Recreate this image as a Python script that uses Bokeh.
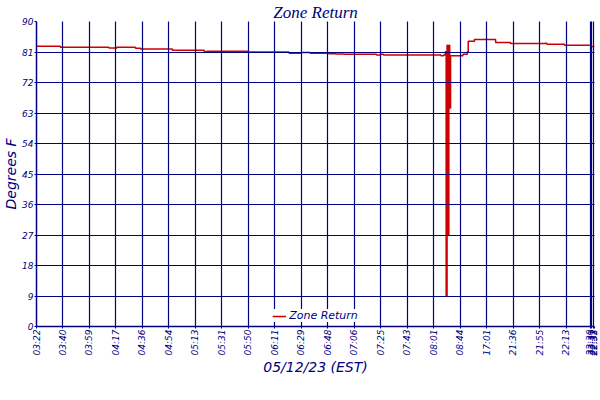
import math
from bokeh.plotting import figure
from bokeh.models import FixedTicker, Legend, LegendItem, Range1d
from bokeh.embed import file_html
from bokeh.resources import INLINE

# ---- data ----
tick_idx = [0, 30, 60, 90, 120, 150, 180, 210, 240, 270, 300, 330, 360, 390,
            420, 450, 480, 510, 540, 570, 600, 627, 629, 631, 632]
tick_labels = ["03:22", "03:40", "03:59", "04:17", "04:36", "04:54", "05:13",
               "05:31", "05:50", "06:11", "06:29", "06:48", "07:06", "07:25",
               "07:43", "08:01", "08:44", "17:01", "21:36", "21:55", "22:13",
               "22:30", "22:31", "22:32", "22:33"]
y_ticks = [0, 9, 18, 27, 36, 45, 54, 63, 72, 81, 90]

sample_idx = [0, 27, 82, 91, 112, 118, 154, 190, 193, 239, 286, 300, 310, 331,
              339, 348, 385, 390, 393, 458, 461, 463, 464, 465, 466, 467, 468,
              469, 483, 488, 489, 496, 520, 537, 576, 578, 598, 628, 632]
zone_return = [82.7, 82.4, 82.2, 82.4, 82.1, 81.9, 81.5, 81.1, 81.2, 81.0,
               80.6, 80.85, 80.6, 80.5, 80.4, 80.3, 80.1, 80.3, 80.1, 79.9,
               80.1, 81.1, 9.0, 83.0, 27.0, 83.0, 64.5, 79.9, 80.3, 81.1,
               84.2, 84.7, 83.8, 83.5, 83.6, 83.3, 83.0, 82.6, 82.6]

NAVY = "#000080"
RED = "#CC0000"

p = figure(frame_width=558, frame_height=305, output_backend="svg",
           toolbar_location=None,
           x_range=Range1d(0, 632), y_range=Range1d(0, 90),
           min_border_left=0, min_border_right=4, min_border_top=0,
           min_border_bottom=0)

p.title.text = "Zone Return"
p.title.align = "center"
p.title.text_font = "Liberation Serif"
p.title.text_font_style = "italic"
p.title.text_font_size = "17px"
p.title.text_color = NAVY
p.title.standoff = 0
p.title.offset = 0

r = p.step(sample_idx, zone_return, mode="after", line_color=RED, line_width=1.5)

p.outline_line_color = None
p.background_fill_color = "white"
p.border_fill_color = "white"

for g in (p.xgrid, p.ygrid):
    g.grid_line_color = NAVY
    g.grid_line_width = 1.2
    g.level = "overlay"

p.xaxis.ticker = FixedTicker(ticks=tick_idx)
p.xaxis.major_label_overrides = {t: l for t, l in zip(tick_idx, tick_labels)}
p.xaxis.major_label_orientation = math.pi / 2
p.yaxis.ticker = FixedTicker(ticks=y_ticks)
p.xgrid.ticker = FixedTicker(ticks=tick_idx)
p.ygrid.ticker = FixedTicker(ticks=y_ticks)

p.xaxis.axis_label = "05/12/23 (EST)"
p.yaxis.axis_label = "Degrees F"

for ax in (p.xaxis[0], p.yaxis[0]):
    ax.axis_line_color = NAVY
    ax.axis_line_width = 1.5
    ax.major_tick_line_color = NAVY
    ax.major_tick_in = 0
    ax.major_tick_out = 2
    ax.minor_tick_line_color = None
    ax.major_label_text_color = NAVY
    ax.major_label_text_font = "DejaVu Sans"
    ax.major_label_text_font_style = "italic"
    ax.major_label_text_font_size = "9px"
    ax.major_label_standoff = 1
    ax.axis_label_text_color = NAVY
    ax.axis_label_text_font = "DejaVu Sans"
    ax.axis_label_text_font_style = "italic"
    ax.axis_label_text_font_size = "14px"
    ax.axis_label_standoff = 1
p.yaxis[0].axis_label_standoff = 0

legend = Legend(items=[LegendItem(label="Zone Return", renderers=[r])],
                orientation="horizontal", location="bottom_center")
legend.border_line_color = None
legend.background_fill_color = "white"
legend.background_fill_alpha = 1.0
legend.label_text_color = NAVY
legend.label_text_font = "DejaVu Sans"
legend.label_text_font_style = "italic"
legend.label_text_font_size = "11px"
legend.glyph_width = 14
legend.glyph_height = 10
legend.padding = 2
legend.margin = 4
legend.label_standoff = 3
legend.label_height = 12
p.add_layout(legend, "center")

open("out.html", "w").write(file_html(p, INLINE))
